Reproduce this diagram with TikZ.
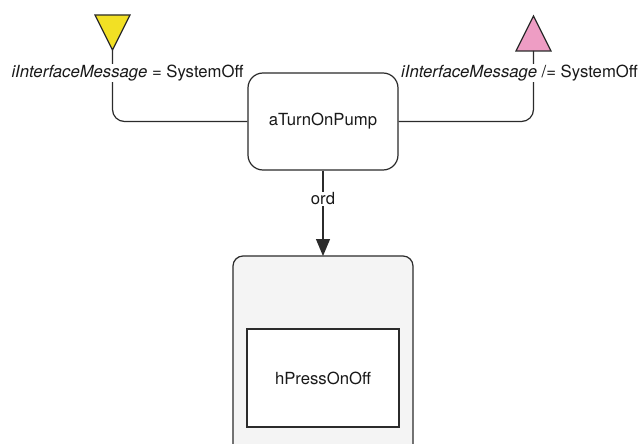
\documentclass[tikz,border=0pt]{standalone}
\usepackage{fontspec}
\setmainfont{TeX Gyre Heros}
\usetikzlibrary{arrows.meta}
\definecolor{linec}{HTML}{2B2B2B}
\definecolor{ytri}{HTML}{F2E024}
\definecolor{ptri}{HTML}{EE9DC4}
\definecolor{boxfill}{HTML}{F4F4F4}
\begin{document}
\begin{tikzpicture}[x=1pt,y=-1pt,line width=1.2pt,
  every node/.style={font=\fontsize{16.7}{19}\selectfont, text=black!90},
  action/.style={draw=linec, rounded corners=15pt, minimum width=150pt, minimum height=97pt, inner sep=0pt},
  outer/.style={draw=linec, fill=boxfill, rounded corners=10pt},
  inner/.style={draw=linec, fill=white, minimum width=152pt, minimum height=98pt, inner sep=0pt},
  lbl/.style={fill=white, inner sep=1pt},
  conn/.style={draw=linec, rounded corners=12pt},
  tri/.style={draw=linec, line join=miter}]
\useasboundingbox (0,0) rectangle (641,444);
\clip (0,0) rectangle (641,444);
\fill[white] (0,0) rectangle (641,444);
% outer box
\draw[outer] (233,256) rectangle (413,470);
\node[inner] (press) at (323,378) {hPressOnOff};
\coordinate (outtop) at (323,256);
% action
\node[action] (pump) at (323,121.5) {aTurnOnPump};
% triangles
\draw[tri, fill=ytri] (95,15) -- (130,15) -- (112.5,50) -- cycle;
\coordinate (yapex) at (112.5,50);
\draw[tri, fill=ptri] (516,51) -- (551,51) -- (533.5,16) -- cycle;
\coordinate (pbase) at (533.5,51);
% connectors
\draw[conn] (yapex) |- (pump.west);
\draw[conn] (pbase) |- (pump.east);
\node[lbl] (ylbl) at (127.5,73) {\itshape iInterfaceMessage\/\upshape{} = SystemOff};
\node[lbl] (plbl) at (519.5,73) {\itshape iInterfaceMessage\/\upshape{} /= SystemOff};
% ord edge
\draw[draw=linec, -{Triangle[length=17pt,width=14pt]}] (pump.south) -- (outtop)
  node[pos=0.33, lbl] (ord) {ord};
\end{tikzpicture}
\end{document}
